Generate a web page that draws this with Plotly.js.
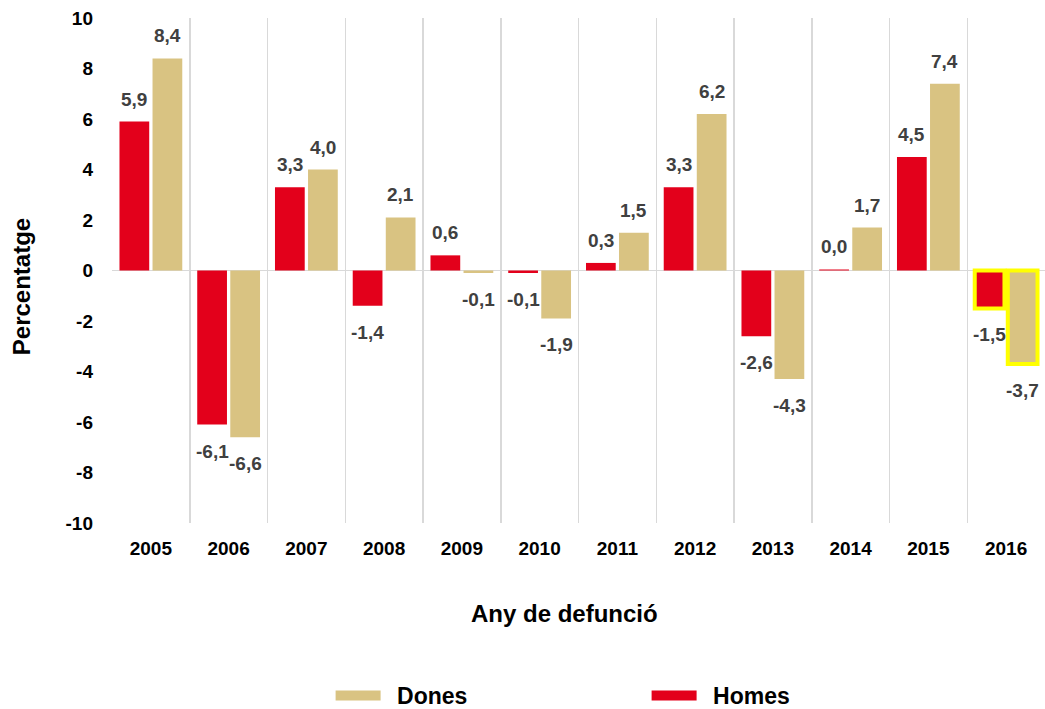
<!DOCTYPE html>
<html>
<head>
<meta charset="utf-8">
<script src="https://cdn.plot.ly/plotly-3.0.1.min.js"></script>
<style>html,body{margin:0;padding:0;background:#fff;overflow:hidden}</style>
</head>
<body>
<div id="chart" style="width:1045px;height:709px"></div>
<script>
const years = ['2005','2006','2007','2008','2009','2010','2011','2012','2013','2014','2015','2016'];
const homes = [5.9, -6.1, 3.3, -1.4, 0.6, -0.1, 0.3, 3.3, -2.6, 0.04, 4.5, -1.5];
const dones = [8.4, -6.6, 4.0, 2.1, -0.1, -1.9, 1.5, 6.2, -4.3, 1.7, 7.4, -3.7];
const highlightYear = '2016';
const yTicks = [-10, -8, -6, -4, -2, 0, 2, 4, 6, 8, 10];

const RED = '#E3001B', TAN = '#D9C382', HL = '#FFFF00';
const FONT = 'Liberation Sans, Arial, sans-serif';
const fmt = v => v.toFixed(1).replace('.', ',');

function outline(){
  return {
    color: years.map(y => y === highlightYear ? HL : 'rgba(0,0,0,0)'),
    width: years.map(y => y === highlightYear ? 4 : 0)
  };
}

const traces = [
  {type:'bar', name:'Homes', x:years, y:homes, marker:{color:RED, line:outline()}, hoverinfo:'skip', showlegend:false},
  {type:'bar', name:'Dones', x:years, y:dones, marker:{color:TAN, line:outline()}, hoverinfo:'skip', showlegend:false},
  // legend swatches (wide rectangles like the reference)
  {type:'scatter', mode:'lines', name:'\u2002Dones', x:[null], y:[null], line:{color:TAN, width:12}, hoverinfo:'skip'},
  {type:'scatter', mode:'lines', name:'\u2002Homes', x:[null], y:[null], line:{color:RED, width:12}, hoverinfo:'skip'}
];

const annotations = [];
[[homes,-16.5],[dones,16.5]].forEach(([arr,dx]) => {
  arr.forEach((v,i) => {
    annotations.push({
      x: i, y: v, xref:'x', yref:'y', text: fmt(v), showarrow:false,
      xshift: dx, yshift: v >= 0 ? 10 : -14,
      yanchor: v >= 0 ? 'bottom' : 'top',
      font:{family:FONT, size:19, color:'#404040', weight:700}
    });
  });
});
annotations.push({
  text:'Any de defunció', xref:'paper', yref:'paper', x:0.4855, y:-0.180,
  xanchor:'center', yanchor:'middle', showarrow:false,
  font:{family:FONT, size:24, weight:700, color:'#000'}
});
annotations.push({
  text:'Percentatge', xref:'paper', yref:'paper', x:-0.0975, y:0.467, textangle:-90,
  xanchor:'center', yanchor:'middle', showarrow:false,
  font:{family:FONT, size:24, weight:700, color:'#000'}
});

const layout = {
  width:1045, height:709,
  margin:{l:112, r:0, t:18, b:186, autoexpand:false},
  paper_bgcolor:'#fff', plot_bgcolor:'#fff',
  barmode:'group', bargap:0.15, bargroupgap:0.1,
  font:{family:FONT, color:'#000'},
  xaxis:{
    type:'category', range:[-0.5, years.length - 0.5], tickangle:0,
    tickson:'boundaries', showgrid:true, gridcolor:'#D9D9D9', gridwidth:1.5,
    ticks:'', zeroline:false, showline:false,
    tickfont:{family:FONT, size:19, weight:700, color:'#000'},
    ticklabelstandoff:12
  },
  yaxis:{
    range:[-10,10], tickvals:yTicks, ticktext:yTicks.map(String),
    showgrid:false, zeroline:true, zerolinecolor:'#D9D9D9', zerolinewidth:1.5,
    showline:false, ticks:'',
    tickfont:{family:FONT, size:19, weight:700, color:'#000'},
    ticklabelstandoff:18
  },
  showlegend:true,
  legend:{
    orientation:'h', traceorder:'normal',
    x:0.2343, xanchor:'left', xref:'paper',
    y:0.019, yanchor:'middle', yref:'container',
    itemwidth:45, entrywidth:256, entrywidthmode:'pixels',
    font:{family:FONT, size:23, weight:700, color:'#000'}
  },
  annotations: annotations
};

Plotly.newPlot('chart', traces, layout, {displayModeBar:false, staticPlot:true});
</script>
</body>
</html>
